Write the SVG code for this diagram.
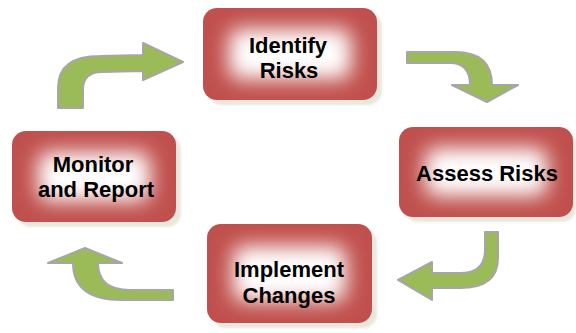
<svg xmlns="http://www.w3.org/2000/svg" width="576" height="333" viewBox="0 0 576 333">
  <defs>
    <filter id="soft" filterUnits="userSpaceOnUse" x="0" y="0" width="576" height="333">
      <feGaussianBlur stdDeviation="10"/>
    </filter>
    <filter id="shadowBlur" filterUnits="userSpaceOnUse" x="0" y="0" width="576" height="333">
      <feGaussianBlur stdDeviation="1"/>
    </filter>
  </defs>
  <style>
    .shadow { fill: #e9e7de; filter: url(#shadowBlur); }
    .box { fill: #c0504d; }
    .glow { fill: #ffffff; filter: url(#soft); }
    .label { font-family: "Liberation Sans", Arial, sans-serif; font-weight: bold; font-size: 22px; fill: #000000; text-anchor: middle; }
    .arrow { fill: #9bbb59; stroke: #a6a6a6; stroke-width: 2; stroke-linejoin: round; }
  </style>

  <!-- connectors: curved block arrows -->
  <g id="connectors">
    <path class="arrow" d="M58,108 L58,88 Q58,56 100,56 L143,55 L143,43 L183,62 L143,80 L143,71 L102,72 Q83,72 83,90 L83,108 Z"/>
    <path class="arrow" d="M407,52 L455,52 Q492,52 492,85 L518,85 L487,102 L452,85 L470,85 Q470,63 450,63 L407,63 Z"/>
    <path class="arrow" d="M485,232 L498,232 L498,258 Q498,288 460,288 L432,288 L432,300 L398,280 L432,262 L432,273 L460,273 Q485,273 485,250 Z"/>
    <path class="arrow" d="M173,290 L173,300 L122,300 Q73,300 73,263 L48,263 L85,248 L122,263 L98,263 Q98,290 130,290 Z"/>
  </g>

  <!-- Identify Risks -->
  <g id="identify-risks">
    <rect class="shadow" x="208" y="13" width="174" height="92" rx="14"/>
    <rect class="box" x="203" y="8" width="174" height="92" rx="14"/>
    <rect class="glow" x="229" y="29" width="122" height="50" rx="10"/>
    <text class="label" x="288" y="53">Identify</text>
    <text class="label" x="289" y="78">Risks</text>
  </g>

  <!-- Assess Risks -->
  <g id="assess-risks">
    <rect class="shadow" x="404" y="132" width="172" height="90" rx="14"/>
    <rect class="box" x="399" y="127" width="174" height="90" rx="14"/>
    <rect class="glow" x="425" y="148" width="122" height="48" rx="10"/>
    <text class="label" x="487" y="181">Assess Risks</text>
  </g>

  <!-- Implement Changes -->
  <g id="implement-changes">
    <rect class="shadow" x="212" y="229" width="165" height="99" rx="14"/>
    <rect class="box" x="207" y="224" width="165" height="99" rx="14"/>
    <rect class="glow" x="233" y="246" width="113" height="55" rx="10"/>
    <text class="label" x="289" y="277">Implement</text>
    <text class="label" x="289" y="303">Changes</text>
  </g>

  <!-- Monitor and Report -->
  <g id="monitor-report">
    <rect class="shadow" x="17" y="136" width="164" height="91" rx="14"/>
    <rect class="box" x="12" y="131" width="164" height="91" rx="14"/>
    <rect class="glow" x="38" y="152" width="112" height="49" rx="10"/>
    <text class="label" x="93" y="172">Monitor</text>
    <text class="label" x="96" y="197">and Report</text>
  </g>
</svg>
